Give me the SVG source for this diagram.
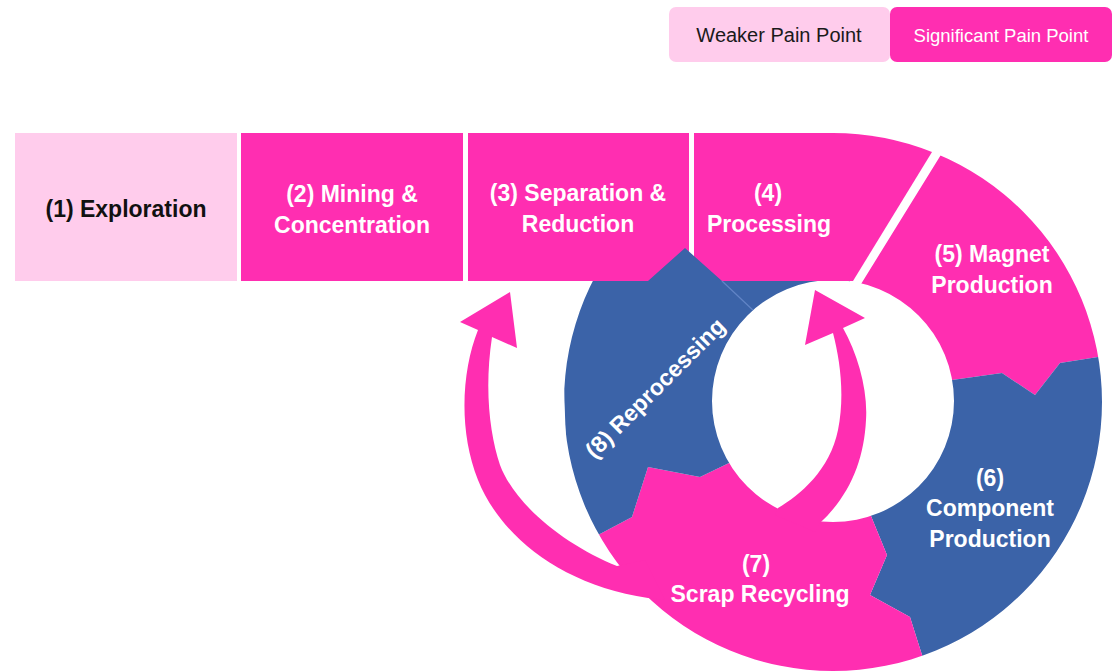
<svg xmlns="http://www.w3.org/2000/svg" width="1114" height="671" viewBox="0 0 1114 671">
<style>
.pink{fill:#FF2EB1}
.light{fill:#FFCCEC}
.blue{fill:#3B63A8}
.lbl{font-family:"Liberation Sans",Arial,sans-serif;font-weight:bold;font-size:23px;text-anchor:middle;fill:#ffffff}
.dark{fill:#111111}
.leg{font-family:"Liberation Sans",Arial,sans-serif;text-anchor:middle}
</style>
<defs>
<clipPath id="ring">
<path clip-rule="evenodd" d="M 564,402 A 269 269 0 1 0 1102,402 A 269 269 0 1 0 564,402 Z M 712,401 A 121 121 0 1 1 954,401 A 121 121 0 1 1 712,401 Z"/>
</clipPath>
</defs>
<rect width="1114" height="671" fill="#ffffff"/>

<g id="legend">
<g id="legend-weaker">
<rect x="669" y="7" width="221" height="55" rx="7" class="light"/>
<text x="779" y="42" class="leg" font-size="20" fill="#1a1a1a">Weaker Pain Point</text>
</g>
<g id="legend-significant">
<rect x="890" y="7" width="222" height="55" rx="7" class="pink"/>
<text x="1001" y="42" class="leg" font-size="18.5" fill="#ffffff">Significant Pain Point</text>
</g>
</g>

<g id="node-1">
<rect x="15" y="133" width="222" height="148" class="light"/>
<text x="126" y="217" class="lbl dark">(1) Exploration</text>
</g>
<g id="node-2">
<rect x="241" y="133" width="222" height="148" class="pink"/>
<text x="352" y="202" class="lbl">(2) Mining &amp;</text>
<text x="352" y="233" class="lbl">Concentration</text>
</g>
<g id="node-3">
<rect x="468" y="133" width="221" height="148" class="pink"/>
<text x="578" y="201" class="lbl">(3) Separation &amp;</text>
<text x="578" y="232" class="lbl">Reduction</text>
</g>
<g id="node-4">
<path d="M 694,133 L 833,133 A 269 269 0 0 1 932,152 L 853,281 L 694,281 Z" class="pink"/>
<text x="768" y="201" class="lbl">(4)</text>
<text x="769" y="232" class="lbl">Processing</text>
</g>
<g id="node-5">
<polygon clip-path="url(#ring)" class="pink" points="853,297 960,124 1140,100 1140,352 1098,357 1060,363 1035,395 1002,373 952,380 900,388"/>
<text x="992" y="262" class="lbl">(5) Magnet</text>
<text x="992" y="293" class="lbl">Production</text>
</g>
<g id="node-6">
<polygon clip-path="url(#ring)" class="blue" points="900,388 952,380 1002,373 1035,395 1060,363 1098,357 1140,352 1140,700 930,690 922,655 910,617 870,595 887,555 871,516 860,490"/>
<text x="990" y="486" class="lbl">(6)</text>
<text x="990" y="516" class="lbl">Component</text>
<text x="990" y="547" class="lbl">Production</text>
</g>
<g id="node-7">
<polygon clip-path="url(#ring)" class="pink" points="860,490 871,516 887,555 870,595 910,617 922,655 930,690 560,690 570,550 598,535 632,517 648,467 700,477 729,463 760,448"/>
<text x="756" y="572" class="lbl">(7)</text>
<text x="760" y="602" class="lbl">Scrap Recycling</text>
</g>
<g id="node-8">
<polygon clip-path="url(#ring)" class="blue" points="570,550 598,535 632,517 648,467 700,477 729,463 760,448 830,350 850,281 722,281 685,248 648,281 560,281"/>
<path clip-path="url(#ring)" d="M 722,281 L 756,313" stroke="#6285c6" stroke-width="1.2" fill="none"/>
<text transform="translate(655,388) rotate(-45)" x="0" y="8" class="lbl">(8) Reprocessing</text>
</g>

<g id="connectors">
<path id="arrow-7-to-3" class="pink" d="M 665,600 L 648,598 C 560,585 500,535 478,480 C 458,430 462,370 478,330 L 460,322 L 510,292 L 517,348 L 492,337 C 484,390 490,435 500,465 C 515,505 565,545 617,566 L 645,560 Z"/>
<path id="arrow-7-to-4" class="pink" d="M 775,515 L 778,508 C 800,495 830,470 838,430 C 845,395 840,360 833,333 L 805,345 L 815,290 L 865,318 L 843,328 C 858,355 868,390 866,420 C 864,460 850,495 820,523 L 815,532 Z"/>
</g>
</svg>
